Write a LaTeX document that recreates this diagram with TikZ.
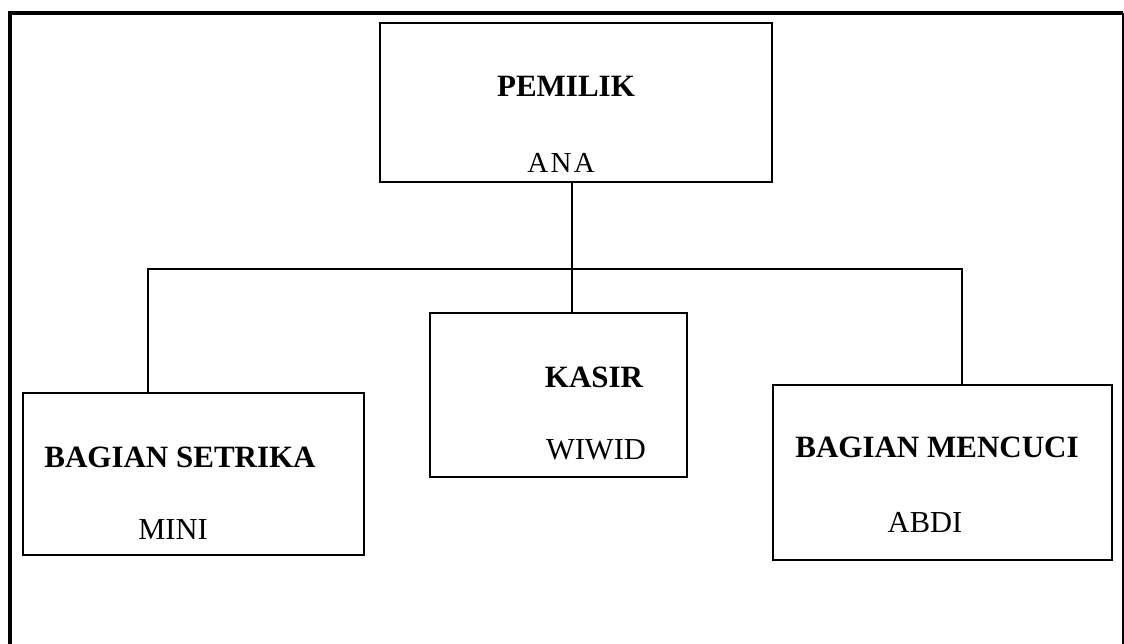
\documentclass[tikz,border=0pt]{standalone}
\usepackage{fontspec}
\setmainfont{Liberation Serif}
\usetikzlibrary{positioning}

\tikzset{
  unitbox/.style={draw, line width=2pt, inner sep=0pt, outer sep=0pt},
  unithead/.style={anchor=base, inner sep=0pt, font=\bfseries\fontsize{31}{36}\selectfont},
  unitname/.style={anchor=base, inner sep=0pt, font=\fontsize{30.5}{36}\selectfont},
  link/.style={line width=1.2pt}
}

\begin{document}
\begin{tikzpicture}[x=1pt,y=-1pt]
\useasboundingbox (0,0) rectangle (1124,644);
% outer frame, open at the bottom
\draw[line width=4pt] (10,644) -- (10,13) -- (1123,13);
\draw[line width=1.5pt] (1123,13) -- (1123,644);
% boxes
\node[unitbox, minimum width=392, minimum height=159] (pemilik) at (576,102.5) {};
\node[unitbox, minimum width=257, minimum height=164] (kasir) at (558.5,395) {};
\node[unitbox, minimum width=341, minimum height=162] (setrika) at (193.5,474) {};
\node[unitbox, minimum width=339, minimum height=175] (mencuci) at (942.5,472.5) {};
% texts
\node[unithead] (pemilikT) at (566,97) {PEMILIK};
\node[unitname, font=\fontsize{29}{36}\selectfont\addfontfeature{LetterSpace=8}] (pemilikN) at (561,173) {ANA};
\node[unithead] (kasirT) at (594,387.5) {KASIR};
\node[unitname] (kasirN) at (596,459.5) {WIWID};
\node[unithead] (setrikaT) at (180,467) {BAGIAN SETRIKA};
\node[unitname] (setrikaN) at (173,539) {MINI};
\node[unithead] (mencuciT) at (937,457.5) {BAGIAN MENCUCI};
\node[unitname] (mencuciN) at (925,532) {ABDI};
% connectors
\coordinate (hub) at (572,269);
\coordinate (bl) at (148,269);
\coordinate (br) at (962,269);
\draw[link] (pemilik.south -| hub) -- (kasir.north -| hub);
\draw[link] (setrika.north -| bl) -- (bl) -- (br) -- (mencuci.north -| br);
\end{tikzpicture}
\end{document}
